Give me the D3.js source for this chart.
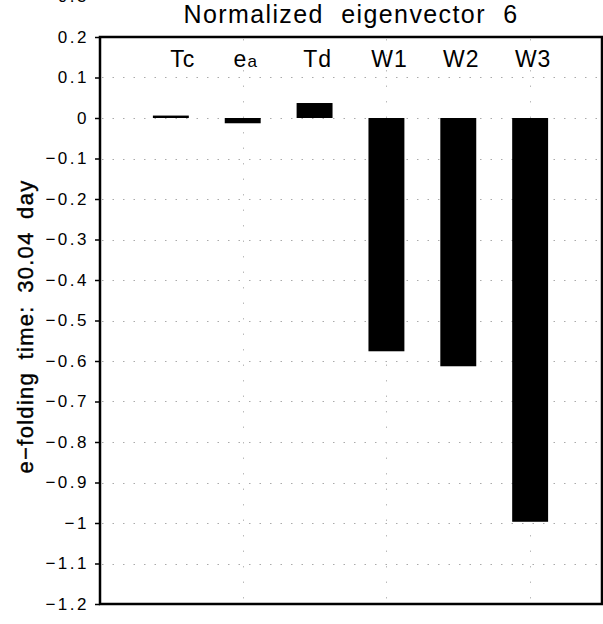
<!DOCTYPE html>
<html>
<head>
<meta charset="utf-8">
<script src="https://cdn.jsdelivr.net/npm/d3@7"></script>
<style>
  html, body { margin: 0; padding: 0; background: #fff; }
  svg { display: block; }
</style>
</head>
<body>
<svg id="chart" width="603" height="624"></svg>
<script>
// ---- data ----
const categories = ["Tc", "ea", "Td", "W1", "W2", "W3"];
const values = [0.006, -0.013, 0.037, -0.576, -0.613, -0.997];
const yTicks = [0.3, 0.2, 0.1, 0, -0.1, -0.2, -0.3, -0.4, -0.5, -0.6, -0.7, -0.8, -0.9, -1.0, -1.1, -1.2];
const gridY = [0.1, 0, -0.1, -0.2, -0.3, -0.4, -0.5, -0.6, -0.7, -0.8, -0.9, -1.0, -1.1];
const gridX = [2, 4, 6];
const title = "Normalized eigenvector 6";
const yTitle = "e−folding time: 30.04 day";

// ---- layout ----
const svg = d3.select("#chart");
const pL = 100, pR = 602, pT = 37, pB = 604;
const x = d3.scaleLinear().domain([0, 7]).range([99, 602]);
const y = d3.scaleLinear().domain([-1.2, 0.2]).range([pB, pT]);
const font = "'Liberation Sans', Arial, sans-serif";

const fmt = v => {
  if (v === 0) return "0";
  const s = Math.abs(v) === 1 ? "1" : Math.abs(v).toFixed(1);
  return (v < 0 ? "−" : "") + s;
};

// grid
const g = svg.append("g");
g.selectAll("line.gy").data(gridY).join("line")
  .attr("x1", pL + 2).attr("x2", pR - 2)
  .attr("y1", d => Math.round(y(d)) + 0.5).attr("y2", d => Math.round(y(d)) + 0.5)
  .attr("stroke", "#aaa").attr("stroke-width", 1)
  .attr("stroke-dasharray", "1.5,9");
g.selectAll("line.gx").data(gridX).join("line")
  .attr("x1", d => Math.round(x(d)) + 0.5).attr("x2", d => Math.round(x(d)) + 0.5)
  .attr("y1", pT + 2).attr("y2", pB - 2)
  .attr("stroke", "#bbb").attr("stroke-width", 1)
  .attr("stroke-dasharray", "1.5,14");

// bars
const bw = x(0.5) - x(0);
svg.append("g").selectAll("rect").data(values).join("rect")
  .attr("x", (d, i) => x(i + 1) - bw / 2)
  .attr("width", bw)
  .attr("y", d => y(Math.max(0, d)))
  .attr("height", d => Math.max(1.5, Math.abs(y(d) - y(0))))
  .attr("fill", "#000");

// category labels
svg.append("g").selectAll("text").data(categories).join("text")
  .attr("x", (d, i) => x(i + 1) + (i === 0 ? 12 : 3))
  .attr("y", 67)
  .attr("text-anchor", "middle")
  .attr("font-family", font)
  .attr("font-size", 23)
  .attr("letter-spacing", "1px")
  .each(function(d) {
    const t = d3.select(this);
    if (d === "ea") {
      t.append("tspan").text("e");
      t.append("tspan").attr("font-size", 17).text("a");
    } else {
      t.text(d);
    }
  });

// frame
svg.append("path")
  .attr("d", `M${pL},${pT}H${pR}V${pB}H${pL}Z`)
  .attr("fill", "none").attr("stroke", "#000").attr("stroke-width", 2.5);

// y axis ticks
const yAxis = d3.axisLeft(y).tickValues(yTicks).tickSize(5).tickPadding(7)
  .tickFormat(fmt);
const ga = svg.append("g").attr("transform", `translate(${pL},0)`).call(yAxis);
ga.select(".domain").remove();
ga.selectAll(".tick line").attr("stroke", "#000").attr("stroke-width", 1.5);
ga.selectAll(".tick text")
  .attr("font-family", font).attr("font-size", 17)
  .attr("letter-spacing", "2.5px")
  .attr("dx", "1px")
  .attr("fill", "#000");

// title
svg.append("text")
  .attr("x", (pL + pR) / 2).attr("y", 23)
  .attr("text-anchor", "middle")
  .attr("font-family", font).attr("font-size", 25)
  .attr("letter-spacing", "1.4px").attr("word-spacing", "9px")
  .text(title);

// y title
svg.append("text")
  .attr("transform", `translate(33,${(pT + pB) / 2 + 6}) rotate(-90)`)
  .attr("text-anchor", "middle")
  .attr("font-family", font).attr("font-size", 22)
  .attr("letter-spacing", "1.3px").attr("word-spacing", "5px")
  .attr("stroke", "#000").attr("stroke-width", 0.4)
  .text(yTitle);
</script>
</body>
</html>
